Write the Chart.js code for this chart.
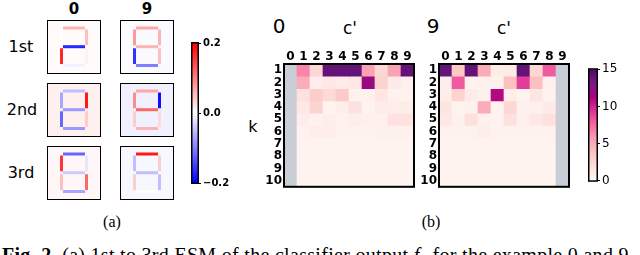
<!DOCTYPE html>
<html><head><meta charset="utf-8">
<script src="https://cdn.jsdelivr.net/npm/chart.js@4/dist/chart.umd.min.js"></script>
<style>
body{margin:0;width:640px;height:255px;overflow:hidden;background:#fff;position:relative;font-family:"DejaVu Sans",sans-serif;}
canvas{position:absolute;}
.t{position:absolute;white-space:nowrap;line-height:1;transform:translate(-50%,-50%);color:#000;}
</style></head><body>

<div class="t" style="left:74px;top:9px;font-size:15px;font-weight:bold;">0</div>
<div class="t" style="left:147px;top:9px;font-size:15px;font-weight:bold;">9</div>
<div class="t" style="left:21px;top:47px;font-size:16px;">1st</div>
<div class="t" style="left:22px;top:110px;font-size:16px;">2nd</div>
<div class="t" style="left:21px;top:173px;font-size:16px;">3rd</div>
<div class="t" style="left:112px;top:222px;font-size:16px;font-family:'Liberation Serif',serif;">(a)</div>

<div class="t" style="left:279px;top:26px;font-size:20px;">0</div>
<div class="t" style="left:350px;top:28px;font-size:17px;">c'</div>
<div class="t" style="left:433px;top:26px;font-size:20px;">9</div>
<div class="t" style="left:504px;top:28px;font-size:17px;">c'</div>
<div class="t" style="left:253px;top:127px;font-size:16px;">k</div>
<div class="t" style="left:431px;top:222px;font-size:16px;font-family:'Liberation Serif',serif;">(b)</div>

<div style="position:absolute;left:2px;top:245px;font-size:20px;letter-spacing:0.3px;font-family:'Liberation Serif',serif;white-space:nowrap;line-height:1;"><b>Fig. 2.</b> (a) 1st to 3rd ESM of the classifier output <i>f<sub>c</sub></i> for the example 0 and 9. (b) The</div>

<script>
// ---------- DATA ----------
const digits = ['0', '9'];
const ranks = ['1st', '2nd', '3rd'];
// segment order: a(top), b(top-right), c(bottom-right), d(bottom), e(bottom-left), f(top-left), g(middle)
const segmentNames = ['a', 'b', 'c', 'd', 'e', 'f', 'g'];
const esmDigit0 = [
  [0.06, 0.05, 0.01, -0.01, 0.17, 0.00, -0.17],
  [-0.05, 0.18, 0.04, -0.08, -0.12, -0.07, -0.08],
  [-0.12, -0.02, 0.12, -0.07, 0.05, 0.16, -0.04]
];
const esmDigit9 = [
  [0.07, 0.06, 0.05, -0.10, -0.16, 0.08, 0.06],
  [0.07, -0.19, 0.03, 0.06, 0.04, 0.09, 0.12],
  [0.18, 0.04, -0.05, 0.00, 0.04, -0.05, -0.05]
];
const esmBackground0 = [0.003, 0.012, 0.006];
const esmBackground9 = [-0.004, -0.012, -0.006];

const cPrimeLabels = ['0', '1', '2', '3', '4', '5', '6', '7', '8', '9'];
const kValues = [1, 2, 3, 4, 5, 6, 7, 8, 9, 10];
const heatDigit0 = [
  [null, 6.5, 2.5, 14, 14, 14, 5.5, 2.5, 5.5, 14],
  [null, 5.0, 0.8, 1.2, 0.9, 1.3, 12, 2.8, 1.0, 0.5],
  [null, 1.8, 3.2, 2.3, 3.3, 0.4, 0.4, 1.4, 0.4, 0.4],
  [null, 1.3, 2.8, 0.3, 0.8, 1.8, 0.3, 0.9, 0.8, 0.9],
  [null, 0.8, 0.4, 0.7, 0.4, 0.7, 0.6, 0.5, 1.7, 1.7],
  [null, 0.4, 0.7, 0.7, 0.4, 0.4, 0.4, 0.5, 0.5, 0.5],
  [null, 0.35, 0.35, 0.35, 0.35, 0.35, 0.35, 0.35, 0.35, 0.35],
  [null, 0.35, 0.35, 0.35, 0.35, 0.35, 0.35, 0.35, 0.35, 0.35],
  [null, 0.35, 0.35, 0.35, 0.35, 0.35, 0.35, 0.35, 0.35, 0.35],
  [null, 0.35, 0.35, 0.35, 0.35, 0.35, 0.35, 0.35, 0.35, 0.35]
];
const heatDigit9 = [
  [14, 3.5, 14, 5.0, 0.9, 1.1, 14, 2.5, 8.0, null],
  [0.8, 8.0, 0.3, 0.5, 0.5, 4.0, 9.0, 4.0, 0.5, null],
  [0.7, 2.8, 1.0, 0.5, 11, 0.7, 0.3, 1.5, 0.4, null],
  [1.5, 0.3, 0.5, 5.0, 0.3, 2.5, 0.6, 0.5, 1.0, null],
  [1.3, 0.5, 1.8, 0.5, 0.3, 1.8, 0.5, 1.3, 1.8, null],
  [0.4, 0.4, 0.4, 0.7, 0.4, 0.4, 0.4, 0.4, 0.4, null],
  [0.35, 0.35, 0.35, 0.35, 0.35, 0.35, 0.35, 0.35, 0.35, null],
  [0.35, 0.35, 0.35, 0.35, 0.35, 0.35, 0.35, 0.35, 0.35, null],
  [0.35, 0.35, 0.35, 0.35, 0.35, 0.35, 0.35, 0.35, 0.35, null],
  [0.35, 0.35, 0.35, 0.35, 0.35, 0.35, 0.35, 0.35, 0.35, null]
];
const esmTicks = [-0.2, 0.0, 0.2];
const heatTicks = [0, 5, 10, 15];
const esmRange = [-0.2, 0.2];
const heatRange = [0, 15];

// ---------- GEOMETRY / STYLE ----------
// seven-segment layout inside a 54x54 image frame
const segGeom = {
  a: [[16, 8], [38, 8]],
  g: [[16, 26.7], [38, 26.7]],
  d: [[16, 45.5], [38, 45.5]],
  f: [[14.5, 9.5], [14.5, 25.2]],
  b: [[39.5, 9.5], [39.5, 25.2]],
  e: [[14.5, 28.2], [14.5, 44]],
  c: [[39.5, 28.2], [39.5, 44]]
};
const NAN_COLOR = '#c9cdd6';
const RDPU = ['#fff7f3', '#fde0dd', '#fcc5c0', '#fa9fb5', '#f768a1', '#dd3497', '#ae017e', '#7a1a85', '#4a0a6a'];

Chart.defaults.font.family = 'DejaVu Sans';
Chart.defaults.color = '#000';

function hex(h) { return [parseInt(h.substr(1, 2), 16), parseInt(h.substr(3, 2), 16), parseInt(h.substr(5, 2), 16)]; }
function rdpu(t) {
  t = Math.max(0, Math.min(1, t));
  const p = t * (RDPU.length - 1), i = Math.min(Math.floor(p), RDPU.length - 2), f = p - i;
  const a = hex(RDPU[i]), b = hex(RDPU[i + 1]);
  return 'rgb(' + a.map((v, j) => Math.round(v + (b[j] - v) * f)).join(',') + ')';
}
function bwr(v) {
  let t = (v - esmRange[0]) / (esmRange[1] - esmRange[0]);
  t = Math.max(0, Math.min(1, t));
  let r, g, b;
  if (t < 0.5) { r = g = Math.round(2 * t * 255); b = 255; }
  else { r = 255; g = b = Math.round((1 - t) * 2 * 255); }
  return 'rgb(' + r + ',' + g + ',' + b + ')';
}

const framePlugin = {
  id: 'frame',
  beforeDatasetsDraw(chart, args, opts) {
    if (opts.bg) {
      const a = chart.chartArea, c = chart.ctx;
      c.save(); c.fillStyle = opts.bg; c.fillRect(a.left, a.top, a.right - a.left, a.bottom - a.top); c.restore();
    }
  },
  afterDatasetsDraw(chart, args, opts) {
    const a = chart.chartArea, c = chart.ctx, w = opts.width || 2;
    c.save(); c.strokeStyle = '#000'; c.lineWidth = w;
    c.strokeRect(a.left + w / 2 - 1, a.top + w / 2 - 1, a.right - a.left - w + 2, a.bottom - a.top - w + 2);
    c.restore();
  }
};

function makeCanvas(left, top, w, h) {
  const cv = document.createElement('canvas');
  cv.width = w; cv.height = h;
  cv.style.left = left + 'px'; cv.style.top = top + 'px';
  cv.style.width = w + 'px'; cv.style.height = h + 'px';
  document.body.appendChild(cv);
  return cv;
}

// ---------- (a) seven-segment ESM images ----------
function esmChart(left, top, weights, bgVal) {
  const cv = makeCanvas(left, top, 54, 54);
  const datasets = segmentNames.map((s, i) => ({
    data: segGeom[s].map(p => ({ x: p[0], y: p[1] })),
    showLine: true, borderColor: bwr(weights[i]), borderWidth: 3,
    borderCapStyle: 'butt', pointRadius: 0, fill: false
  }));
  new Chart(cv, {
    type: 'scatter', data: { datasets },
    options: {
      responsive: false, animation: false, devicePixelRatio: 1,
      layout: { padding: 0 },
      plugins: { legend: { display: false }, tooltip: { enabled: false }, frame: { bg: bwr(bgVal), width: 2 } },
      scales: {
        x: { type: 'linear', min: 0, max: 54, display: false },
        y: { type: 'linear', min: 0, max: 54, reverse: true, display: false }
      }
    },
    plugins: [framePlugin]
  });
}
const colX = [47, 120], rowY = [20, 83, 146];
ranks.forEach((r, i) => {
  esmChart(colX[0], rowY[i], esmDigit0[i], esmBackground0[i]);
  esmChart(colX[1], rowY[i], esmDigit9[i], esmBackground9[i]);
});

// ---------- colorbars ----------
function colorbar(left, top, w, h, pad, barW, range, ticks, gradFn, fmt, font) {
  const cv = makeCanvas(left, top, w, h);
  new Chart(cv, {
    type: 'bar',
    data: { labels: [''], datasets: [{
      data: [[range[0], range[1]]], barPercentage: 1, categoryPercentage: 1, borderWidth: 0,
      backgroundColor: (c) => {
        const a = c.chart.chartArea; if (!a) return '#fff';
        const g = c.chart.ctx.createLinearGradient(0, a.bottom, 0, a.top);
        gradFn(g); return g;
      }
    }] },
    options: {
      responsive: false, animation: false, devicePixelRatio: 1,
      layout: { padding: pad },
      plugins: { legend: { display: false }, tooltip: { enabled: false }, frame: { width: 1.5 } },
      scales: {
        x: { display: false },
        y: {
          position: 'right', min: range[0], max: range[1],
          grid: { display: true, drawOnChartArea: false, drawTicks: true, tickLength: 3, color: '#000' },
          border: { display: false },
          afterBuildTicks(s) { s.ticks = ticks.map(v => ({ value: v })); },
          afterFit(s) { s.width = w - pad.left - pad.right - barW; },
          ticks: { callback: fmt, font: font, color: '#000', padding: 2 }
        }
      }
    },
    plugins: [framePlugin]
  });
}
colorbar(188, 33, 44, 160, { left: 4, right: 0, top: 10, bottom: 10 }, 6, esmRange, esmTicks,
  g => { g.addColorStop(0, 'rgb(0,0,255)'); g.addColorStop(0.5, '#fff'); g.addColorStop(1, 'rgb(255,0,0)'); },
  v => (v < 0 ? '\u2212' : '') + Math.abs(v).toFixed(1), { size: 10, weight: 'bold' });
colorbar(585, 60, 40, 130, { left: 4, right: 0, top: 9, bottom: 8 }, 8, heatRange, heatTicks,
  g => { RDPU.forEach((c, i) => g.addColorStop(i / (RDPU.length - 1), c)); },
  v => String(v), { size: 12 });

// ---------- (b) heatmaps ----------
function heatChart(left, top, vals) {
  const cv = makeCanvas(left, top, 166, 156);
  const datasets = kValues.map((k, i) => ({
    data: cPrimeLabels.map(() => [k - 0.5, k + 0.5]),
    backgroundColor: vals[i].map(v => v == null ? NAN_COLOR : rdpu((v - heatRange[0]) / (heatRange[1] - heatRange[0]))),
    grouped: false, barPercentage: 1, categoryPercentage: 1, borderWidth: 0
  }));
  new Chart(cv, {
    type: 'bar', data: { labels: cPrimeLabels, datasets },
    options: {
      responsive: false, animation: false, devicePixelRatio: 1,
      layout: { padding: { top: 0, right: 2, bottom: 2, left: 0 } },
      plugins: { legend: { display: false }, tooltip: { enabled: false }, frame: { width: 2 } },
      scales: {
        x: {
          position: 'top', grid: { display: false, drawTicks: false }, border: { display: false },
          ticks: { font: { size: 12, weight: 'bold' }, color: '#000', padding: 0, maxRotation: 0, autoSkip: false },
          afterFit(s) { s.height = 24; }
        },
        y: {
          type: 'linear', reverse: true, min: 0.5, max: 10.5,
          grid: { display: false, drawTicks: false }, border: { display: false },
          afterBuildTicks(s) { s.ticks = kValues.map(v => ({ value: v })); },
          ticks: { font: { size: 12, weight: 'bold' }, color: '#000', padding: 2, autoSkip: false },
          afterFit(s) { s.width = 34; }
        }
      }
    },
    plugins: [framePlugin]
  });
}
heatChart(250, 40, heatDigit0);
heatChart(405, 40, heatDigit9);
</script>
</body></html>
